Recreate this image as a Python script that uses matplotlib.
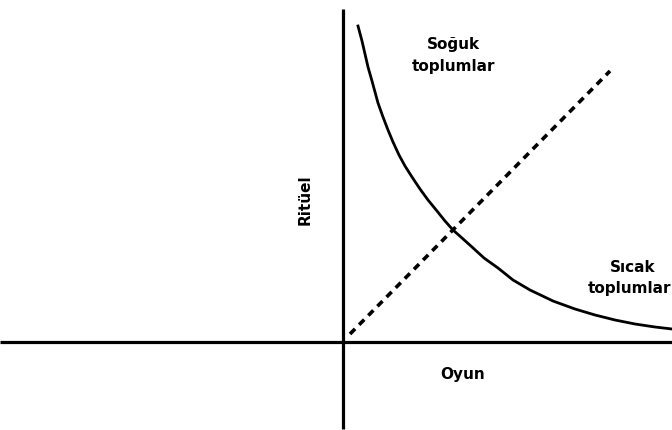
import matplotlib
matplotlib.use("Agg")
import matplotlib.pyplot as plt

# eğri: ritüel ile oyun arasındaki ilişki (resimden okunan noktalar)
egri_x = [15, 19, 22, 25, 29, 35, 40, 45, 50, 56, 62, 69, 77, 85, 94,
          102, 110, 119, 129, 141, 155, 170, 187, 210, 232, 252, 272, 292, 312, 329]
egri_y = [316, 301, 288, 275, 261, 239, 225, 212, 200, 187, 176, 165, 153, 142, 131,
          121, 112, 104, 95, 84, 74, 62, 52, 41, 33, 27, 22, 18, 15, 13]

# kesikli doğru
kesik_x = [7, 267]
kesik_y = [8, 271]

# eksen uçları
yatay_x = [-343, 329]
dikey_y = [-87, 333]

fig = plt.figure(figsize=(6.72, 4.31), dpi=100)
ax = fig.add_axes([0, 0, 1, 1])
ax.set_xlim(-343, 329)
ax.set_ylim(-88, 343)
ax.axis("off")

# eksenler
ax.plot(yatay_x, [0, 0], color="black", lw=2.3, solid_capstyle="butt")
ax.plot([0, 0], dikey_y, color="black", lw=2.3, solid_capstyle="butt")

ax.plot(egri_x, egri_y, color="black", lw=2.0, solid_joinstyle="round")
ax.plot(kesik_x, kesik_y, color="black", lw=2.6, linestyle=(0, (2.0, 1.6)))

yazi = dict(fontsize=11, fontweight="bold", color="black", family="DejaVu Sans")
ax.text(110, 298, "Soğuk", ha="center", va="center", **yazi)
ax.text(110, 277, "toplumlar", ha="center", va="center", **yazi)
ax.text(267, 75, "Sıcak", ha="left", va="center", **yazi)
ax.text(245, 55, "toplumlar", ha="left", va="center", **yazi)
ax.text(-38, 143, "Ritüel", ha="center", va="center", rotation=90, **yazi)
ax.text(120, -32, "Oyun", ha="center", va="center", **yazi)

fig.savefig("out.png", dpi=100, facecolor="white")
